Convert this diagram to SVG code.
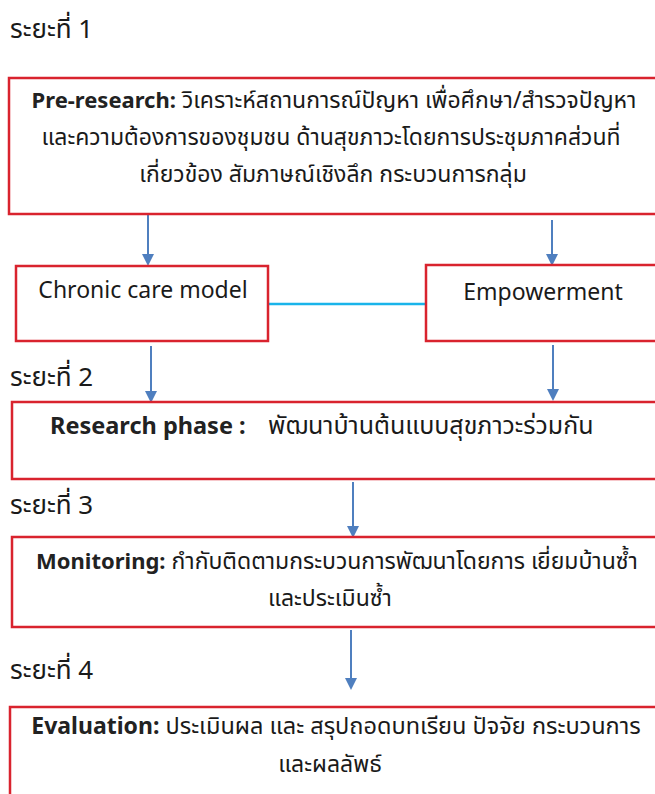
<svg xmlns="http://www.w3.org/2000/svg" width="655" height="794" viewBox="0 0 655 794">
  <style>
    .box { fill: #ffffff; stroke: #d9232e; stroke-width: 2.5; }
    .t { font-family: "Noto Sans", "Noto Sans Thai", "DejaVu Sans", sans-serif; font-size: 23px; fill: #1a1a1a; }
    .lbl { font-size: 26px; }
    .b { font-weight: bold; font-size: 22px; fill: #222222; }
    .c { text-anchor: middle; }
    .arrow { stroke: #4f7fbf; stroke-width: 2; fill: none; marker-end: url(#head); }
    .link { stroke: #19b4ea; stroke-width: 2.5; fill: none; }
  </style>
  <defs>
    <marker id="head" markerWidth="6" markerHeight="6" refX="5" refY="3" orient="auto" markerUnits="strokeWidth">
      <path d="M0,0 L6,3 L0,6 Z" fill="#4f7fbf"/>
    </marker>
  </defs>
  <rect width="655" height="794" fill="#ffffff"/>

  <!-- phase labels -->
  <text class="t lbl" x="10" y="38">ระยะที่ 1</text>
  <text class="t lbl" x="10" y="386">ระยะที่ 2</text>
  <text class="t lbl" x="10" y="514">ระยะที่ 3</text>
  <text class="t lbl" x="10" y="679">ระยะที่ 4</text>

  <g id="connectors">
    <line class="arrow" x1="148" y1="214" x2="148" y2="264"/>
    <line class="arrow" x1="552" y1="220" x2="552" y2="264"/>
    <line class="link" x1="268" y1="304" x2="426" y2="304"/>
    <line class="arrow" x1="151" y1="346" x2="151" y2="401"/>
    <line class="arrow" x1="553" y1="345" x2="553" y2="399"/>
    <line class="arrow" x1="353" y1="482" x2="353" y2="536"/>
    <line class="arrow" x1="351" y1="630" x2="351" y2="688"/>
  </g>

  <g id="pre-research">
    <rect class="box" x="9" y="78" width="660" height="136"/>
    <text class="t c" x="334" y="108"><tspan class="b">Pre-research:</tspan> วิเคราะห์สถานการณ์ปัญหา เพื่อศึกษา/สำรวจปัญหา</text>
    <text class="t c" x="331" y="145">และความต้องการของชุมชน ด้านสุขภาวะโดยการประชุมภาคส่วนที่</text>
    <text class="t c" x="333" y="182">เกี่ยวข้อง สัมภาษณ์เชิงลึก กระบวนการกลุ่ม</text>
  </g>

  <g id="chronic-care">
    <rect class="box" x="16" y="266" width="252" height="75"/>
    <text class="t c" x="143" y="298">Chronic care model</text>
  </g>

  <g id="empowerment">
    <rect class="box" x="426" y="265" width="240" height="76"/>
    <text class="t c" x="543" y="300">Empowerment</text>
  </g>

  <g id="research-phase">
    <rect class="box" x="12" y="402" width="660" height="77"/>
    <text class="t" x="50" y="434"><tspan class="b" style="font-size:23.5px">Research phase :</tspan><tspan x="268" style="font-size:25px">พัฒนาบ้านต้นแบบสุขภาวะร่วมกัน</tspan></text>
  </g>

  <g id="monitoring">
    <rect class="box" x="12" y="537" width="660" height="90"/>
    <text class="t c" x="337" y="569"><tspan class="b">Monitoring:</tspan> กำกับติดตามกระบวนการพัฒนาโดยการ เยี่ยมบ้านซ้ำ</text>
    <text class="t c" x="330" y="606">และประเมินซ้ำ</text>
  </g>

  <g id="evaluation">
    <rect class="box" x="10" y="707" width="660" height="100"/>
    <text class="t c" x="336" y="734" style="font-size:23.5px"><tspan class="b" style="font-size:23px">Evaluation:</tspan> ประเมินผล และ สรุปถอดบทเรียน ปัจจัย กระบวนการ</text>
    <text class="t c" x="330" y="772">และผลลัพธ์</text>
  </g>
</svg>
